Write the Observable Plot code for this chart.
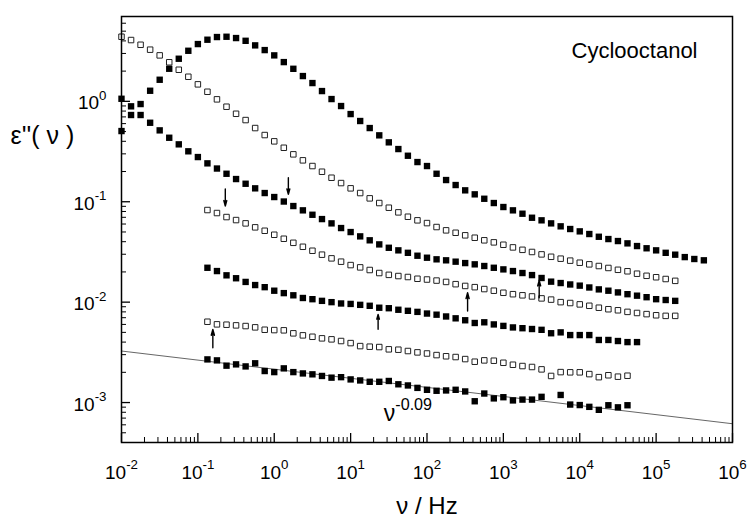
<!DOCTYPE html>
<html>
<head>
<meta charset="utf-8">
<script src="https://cdn.jsdelivr.net/npm/d3@7"></script>
<script src="https://cdn.jsdelivr.net/npm/@observablehq/plot@0.6"></script>
<style>
  html, body { margin: 0; padding: 0; background: #fff; }
  #chart { width: 748px; height: 521px; }
</style>
</head>
<body>
<div id="chart"></div>
<script>
// Frequency grid (Hz), 8 points per decade
const freq = [
  0.01, 0.01334, 0.01778, 0.02371, 0.03162, 0.04217, 0.05623, 0.07499,
  0.1, 0.1334, 0.1778, 0.2371, 0.3162, 0.4217, 0.5623, 0.7499,
  1, 1.334, 1.778, 2.371, 3.162, 4.217, 5.623, 7.499,
  10, 13.34, 17.78, 23.71, 31.62, 42.17, 56.23, 74.99,
  100, 133.4, 177.8, 237.1, 316.2, 421.7, 562.3, 749.9,
  1000, 1334, 1778, 2371, 3162, 4217, 5623, 7499,
  1e4, 13340, 17780, 23710, 31620, 42170, 56230, 74990,
  1e5, 133400, 177800, 237100, 316200, 421700
];
const N = null;
// Series (filled / open squares), aligned with freq
const s1 = [0.506, 0.731, 0.731, 1.275, 1.641, 2.112, 2.657, 3.19, 3.72, 4.11,
  4.37, 4.40, 4.27, 4.01, 3.61, 3.24, 2.87, 2.46, 2.11, 1.786,
  1.521, 1.266, 1.054, 0.898, 0.747, 0.637, 0.542, 0.4585, 0.3905, 0.3348,
  0.2872, 0.2485, 0.2268, 0.190, 0.1645, 0.1467, 0.1299, 0.1185, 0.1071, 0.0971,
  0.0886, 0.0821, 0.0760, 0.0693, 0.0653, 0.0609, 0.0569, 0.0535, 0.0507, 0.0477,
  0.0448, 0.0425, 0.0406, 0.0385, 0.0362, 0.0344, 0.0328, 0.0310, 0.0297, 0.0281,
  0.0269, 0.0261];
const s2 = [4.40, 4.08, 3.66, 3.27, 2.87, 2.45, 2.064, 1.758, 1.477, 1.246,
  1.047, 0.884, 0.752, 0.651, 0.542, 0.4617, 0.3996, 0.3449, 0.2966, 0.2585,
  0.2268, 0.1990, 0.1734, 0.1535, 0.1360, 0.1221, 0.1081, 0.0971, 0.0872, 0.0784,
  0.0709, 0.0653, 0.0613, 0.0560, 0.0519, 0.0491, 0.0463, 0.0438, 0.0413, 0.0394,
  0.0373, 0.0351, 0.0332, 0.0316, 0.0299, 0.0283, 0.0271, 0.0259, 0.0247, 0.0238,
  0.0229, 0.0219, 0.0210, 0.0203, 0.0192, 0.0183, 0.0177, 0.0170, 0.0163];
const s3 = [1.061, 0.892, 0.940, 0.612, 0.514, 0.434, 0.373, 0.318, 0.2787, 0.2412,
  0.2142, 0.1900, 0.1683, 0.1511, 0.1360, 0.1221, 0.1114, 0.1005, 0.0906, 0.0821,
  0.0742, 0.0672, 0.0609, 0.0547, 0.0499, 0.0452, 0.0413, 0.0376, 0.0348, 0.0328,
  0.0310, 0.0290, 0.0277, 0.0267, 0.0261, 0.0253, 0.0245, 0.0238, 0.0229, 0.0220,
  0.0212, 0.0204, 0.0195, 0.0186, 0.0174, 0.0160, 0.0155, 0.0150, 0.0146, 0.0140,
  0.0134, 0.0130, 0.0125, 0.0120, 0.0116, 0.0112, 0.0107, 0.0105, 0.0103];
const s4 = [N, N, N, N, N, N, N, N, N,
  0.0827, 0.0772, 0.0704, 0.0657, 0.0609, 0.0556, 0.0514, 0.0469, 0.0428, 0.0390,
  0.0356, 0.0325, 0.0297, 0.0273, 0.0253, 0.0234, 0.0222, 0.0209, 0.0195, 0.0187,
  0.0182, 0.0178, 0.0171, 0.0168, 0.0164, 0.0159, 0.0151, 0.0145, 0.0141, 0.0135,
  0.0130, 0.0124, 0.0120, 0.0117, 0.0114, 0.0109, 0.0106, 0.0100, 0.0098, 0.0095,
  0.0092, 0.0088, 0.0085, 0.0083, 0.0080, 0.0078, 0.0076, 0.0074, 0.0073, 0.0073];
const s5 = [N, N, N, N, N, N, N, N, N,
  0.0220, 0.0204, 0.0185, 0.0173, 0.0159, 0.0148, 0.0141, 0.0130, 0.0123, 0.0117,
  0.0110, 0.0107, 0.0103, 0.0100, 0.0097, 0.0096, 0.0094, 0.0092, 0.0088, 0.0087,
  0.0084, 0.0082, 0.0080, 0.0077, 0.0075, 0.0072, 0.0069, 0.0066, 0.0062, 0.0063,
  0.0060, 0.0058, 0.0056, 0.0055, 0.0054, 0.0053, 0.0049, 0.0050, 0.0047, 0.0047,
  0.0047, 0.0042, 0.0042, 0.0041, 0.0040, 0.0040];
const s6 = [N, N, N, N, N, N, N, N, N,
  0.00638, 0.00601, 0.00596, 0.00587, 0.00578, 0.00561, 0.00531, 0.00527, 0.00524, 0.00489,
  0.00467, 0.00452, 0.00436, 0.00426, 0.00410, 0.00391, 0.00365, 0.00360, 0.00357, 0.00339,
  0.00336, 0.00326, 0.00316, 0.00308, 0.00297, 0.00289, 0.00284, 0.00271, 0.00255, 0.00263,
  0.00261, 0.00249, 0.00238, 0.00231, 0.00226, 0.00214, 0.00184, 0.00201, 0.00200, 0.00200,
  0.00192, 0.00179, 0.00187, 0.00181, 0.00185];
const s7 = [N, N, N, N, N, N, N, N, N,
  0.00269, 0.00263, 0.00233, 0.00240, 0.00229, 0.00246, 0.00206, 0.00201, 0.00219, 0.00201,
  0.00195, 0.00191, 0.00184, 0.00177, 0.00179, 0.00170, 0.00166, 0.00161, 0.00161, 0.00164,
  0.00152, 0.00148, 0.00140, 0.00134, 0.00131, 0.00132, 0.00134, 0.00129, 0.00103, 0.00123,
  0.00110, 0.00113, 0.00105, 0.00107, 0.00107, 0.00114, N, 0.00119, 0.000955, 0.000944,
  0.000906, 0.000846, 0.000940, 0.000896, 0.000940];
const filledSeries = [s1, s3, s5, s7];
const openSeries = [s2, s4, s6];

// Arrows (x in Hz, from tail to tip)
const arrowX = [0.2286, 1.53, 0.157, 22.9, 340, 2944];
const arrowFrom = [0.1338, 0.1734, 0.00351, 0.00536, 0.00815, 0.01106];
const arrowTo = [0.0906, 0.1185, 0.00536, 0.00756, 0.0124, 0.0165];

// Power law nu^-0.09 line
const lawX = [1e-2, 1e6];
const lawY = [3.26e-3, 6.15e-4];
const lawLabel = "ν^-0.09";
const lawLabelPos = {x: 27.2, y: 6.54e-4};

// Axes
const xTicks = [1e-2, 1e-1, 1, 1e1, 1e2, 1e3, 1e4, 1e5, 1e6];
const yTicks = [1e-3, 1e-2, 1e-1, 1];
const xLabel = "ν / Hz";
const yLabel = "ε''( ν )";
const title = "Cyclooctanol";

const W = 748, H = 521, mL = 121, mR = 16, mT = 16, mB = 79;
const fw = W - mL - mR, fh = H - mT - mB;

const toRows = arr => arr.flatMap(s => s.map((v, i) => ({f: freq[i], v})).filter(d => d.v != null));
const filledRows = toRows(filledSeries);
const openRows = toRows(openSeries);

const xMinor = [], yMinor = [];
for (let e = -2; e < 6; e++) for (let d = 2; d <= 9; d++) xMinor.push(d * Math.pow(10, e));
for (let e = -4; e <= 0; e++) for (let d = 2; d <= 9; d++) { const v = d * Math.pow(10, e); if (v >= 4e-4 && v <= 7) yMinor.push(v); }

const fmt = d => "10^" + Math.round(Math.log10(d));

const arrows = arrowX.map((x, i) => ({x, y1: arrowFrom[i], y2: arrowTo[i]}));
const law = lawX.map((x, i) => ({x, y: lawY[i]}));

const chart = Plot.plot({
  width: W, height: H,
  marginLeft: mL, marginRight: mR, marginTop: mT, marginBottom: mB,
  style: {fontFamily: "'Liberation Sans', Arial, sans-serif", fontSize: "19px", background: "white", color: "black"},
  x: {type: "log", domain: [1e-2, 1e6], axis: null},
  y: {type: "log", domain: [4e-4, 7], axis: null},
  marks: [
    Plot.line(law, {x: "x", y: "y", stroke: "#555", strokeWidth: 0.9}),
    Plot.dot(openRows, {x: "f", y: "v", symbol: "square", r: 3.1, fill: "white", stroke: "#222", strokeWidth: 1}),
    Plot.dot(filledRows, {x: "f", y: "v", symbol: "square", r: 3.6, fill: "black", stroke: "none"}),
    Plot.arrow(arrows, {x1: "x", x2: "x", y1: "y1", y2: "y2", stroke: "black", strokeWidth: 1.4, headLength: 7, headAngle: 30}),
    Plot.frame({stroke: "black", strokeWidth: 1.5}),
    Plot.ruleX(xTicks, {x: d => d, insetTop: fh - 9, stroke: "black", strokeWidth: 1.3}),
    Plot.ruleX(xMinor, {x: d => d, insetTop: fh - 5, stroke: "black", strokeWidth: 1}),
    Plot.ruleY(yTicks, {y: d => d, insetRight: fw - 9, stroke: "black", strokeWidth: 1.3}),
    Plot.ruleY(yMinor, {y: d => d, insetRight: fw - 5, stroke: "black", strokeWidth: 1}),
    // tick labels
    Plot.text(xTicks, {x: d => d, frameAnchor: "bottom", text: fmt, dy: 36, textAnchor: "middle", lineAnchor: "bottom", fontSize: 19}),
    Plot.text(yTicks, {y: d => d, frameAnchor: "left", text: fmt, dx: -15, dy: 2, textAnchor: "end", lineAnchor: "middle", fontSize: 19}),
    Plot.text([lawLabel], {x: lawLabelPos.x, y: lawLabelPos.y, text: d => d, textAnchor: "start", lineAnchor: "bottom", fontSize: 23}),
    Plot.text([title], {frameAnchor: "top-right", text: d => d, dx: -35, dy: 41, textAnchor: "end", lineAnchor: "bottom", fontSize: 22}),
    Plot.text([xLabel], {frameAnchor: "bottom", text: d => d, dx: 0, dy: 71, textAnchor: "middle", lineAnchor: "bottom", fontSize: 24}),
    Plot.text([yLabel], {frameAnchor: "top-left", text: d => d, dx: -111, dy: 127, textAnchor: "start", lineAnchor: "bottom", fontSize: 25})
  ]
});

document.getElementById("chart").append(chart);

// Render "a^b" texts as base + superscript
const NS = "http://www.w3.org/2000/svg";
chart.querySelectorAll("text").forEach(t => {
  const s = t.textContent;
  const i = s.indexOf("^");
  if (i < 0) return;
  const fs = parseFloat(getComputedStyle(t).fontSize) || 19;
  t.textContent = "";
  const a = document.createElementNS(NS, "tspan");
  a.textContent = s.slice(0, i);
  const b = document.createElementNS(NS, "tspan");
  b.textContent = s.slice(i + 1);
  b.setAttribute("font-size", (fs * 0.7).toFixed(1));
  b.setAttribute("dy", (-fs * 0.5).toFixed(1));
  t.append(a, b);
});
</script>
</body>
</html>
